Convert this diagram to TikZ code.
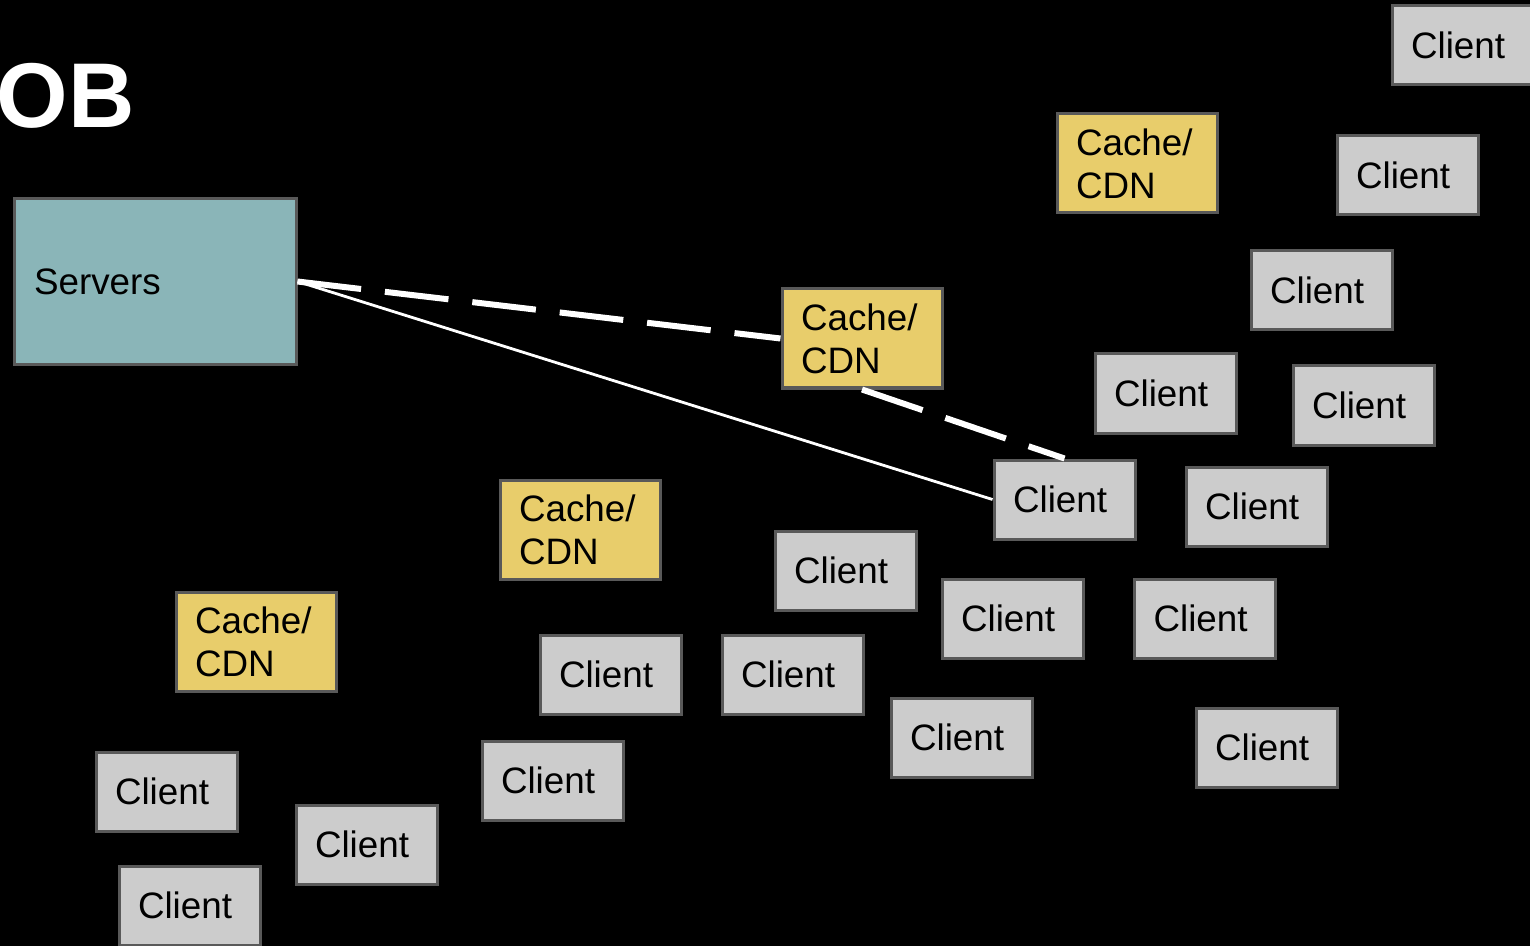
\documentclass[tikz,border=0pt]{standalone}
\usepackage{fontspec}
\setmainfont{Liberation Sans}
\definecolor{serverfill}{HTML}{8AB5B8}
\definecolor{cachefill}{HTML}{E8CD6B}
\definecolor{clientfill}{HTML}{CCCCCC}
\definecolor{boxline}{HTML}{595959}
\begin{document}
\begin{tikzpicture}[
            x=0.5pt,
            y=-0.5pt,
            box/.style={draw=boxline,line width=1.5pt,inner xsep=9.5pt,inner ysep=0pt,
                align=left,font=\fontsize{18.4}{21.5}\selectfont},
            serverbox/.style={box,fill=serverfill,text width=121pt,minimum height=83pt,inner xsep=10pt},
            cachebox/.style={box,fill=cachefill,text width=61pt,minimum height=49.5pt},
            clientbox/.style={box,fill=clientfill,text width=51.5pt,minimum height=39.5pt}
        ]
            \useasboundingbox (0,0) rectangle (1530,946);
            \clip (0,0) rectangle (1530,946);
            \fill [black] (0,0) rectangle (1530,946);

            \node [anchor=base west,inner sep=0pt,text=white,font=\fontsize{46}{50}\selectfont\bfseries]
                (title) at (-3.6,128) {OB};

            \node [serverbox] (servers) at (155,281.5) {Servers};

            \node [cachebox] (cache1) at (1137,163.5) {Cache/\\CDN};
            \node [cachebox] (cache2) at (862,338.5) {Cache/\\CDN};
            \node [cachebox] (cache3) at (580,529.5) {Cache/\\CDN};
            \node [cachebox] (cache4) at (256,641.5) {Cache/\\CDN};

            \foreach \n/\x/\y in {
                1/1462.5/45.5, 2/1407.5/175.5, 3/1321.5/290.5, 4/1165.5/393.5,
                5/1363.5/405.5, 6/1064.5/499.5, 7/1256.5/506.5, 8/845.5/570.5,
                9/1012.5/618.5, 10/1205/618.5, 11/610.5/674.5, 12/792.5/674.5,
                13/961.5/737.5, 14/1266.5/747.5, 15/552.5/780.5, 16/166.5/791.5,
                17/366.5/844.5, 18/189.5/905.5}
                \node [clientbox] (client\n) at (\x,\y) {Client};

            \draw [white,line width=1.4pt] (servers.east) -- (client6.west);
            \draw [white,line width=3pt,dash pattern=on 32pt off 12pt]
                (servers.east) -- (cache2.west)
                (cache2.south) -- (client6.north)
            ;
        \end{tikzpicture}
\end{document}
